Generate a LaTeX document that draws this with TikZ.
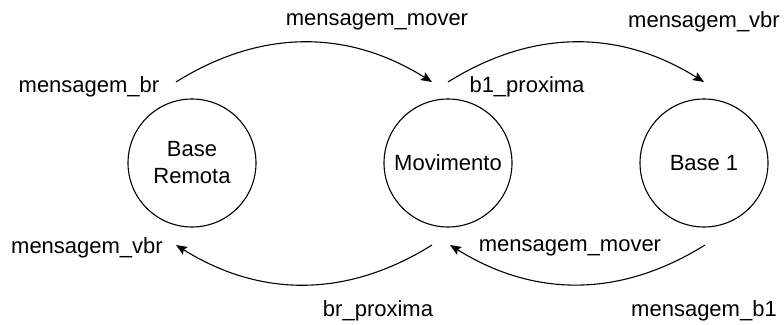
\documentclass[tikz,border=0pt]{standalone}
\usepackage{fontspec}
\setmainfont{Liberation Sans}
\usetikzlibrary{arrows.meta}
\begin{document}
\begin{tikzpicture}[x=1pt,y=-1pt,
  state/.style={circle,draw,line width=1.1pt,minimum size=128pt,inner sep=0pt,align=center,
    font=\fontsize{22}{27}\selectfont},
  lbl/.style={font=\fontsize{22}{27}\selectfont,inner sep=0pt},
  conn/.style={line width=1.1pt,-{Stealth[length=11pt,width=9pt,inset=2pt]},bend left=32}]
\useasboundingbox (0,0) rectangle (784,324);
\node[state] (br) at (192,163) {Base\\Remota};
\node[state] (mv) at (448,163) {Movimento};
\node[state] (b1) at (704,163) {Base 1};
\coordinate (t1s) at (176,82);
\coordinate (t1e) at (432,82);
\coordinate (t2s) at (448,82);
\coordinate (t2e) at (704,82);
\coordinate (b3s) at (432,245);
\coordinate (b3e) at (176,245);
\coordinate (b4s) at (705,245);
\coordinate (b4e) at (450,245);
\draw[conn] (t1s) to (t1e);
\draw[conn] (t2s) to (t2e);
\draw[conn] (b3s) to (b3e);
\draw[conn] (b4s) to (b4e);
\node[lbl] (l1) at (89,87) {mensagem\_br};
\node[lbl] (l2) at (377,22) {mensagem\_mover};
\node[lbl] (l3) at (527,87) {b1\_proxima};
\node[lbl] (l4) at (704,22) {mensagem\_vbr};
\node[lbl] (l5) at (87,248) {mensagem\_vbr};
\node[lbl] (l6) at (378,311) {br\_proxima};
\node[lbl] (l7) at (570,248) {mensagem\_mover};
\node[lbl] (l8) at (704,311) {mensagem\_b1};
\end{tikzpicture}
\end{document}
